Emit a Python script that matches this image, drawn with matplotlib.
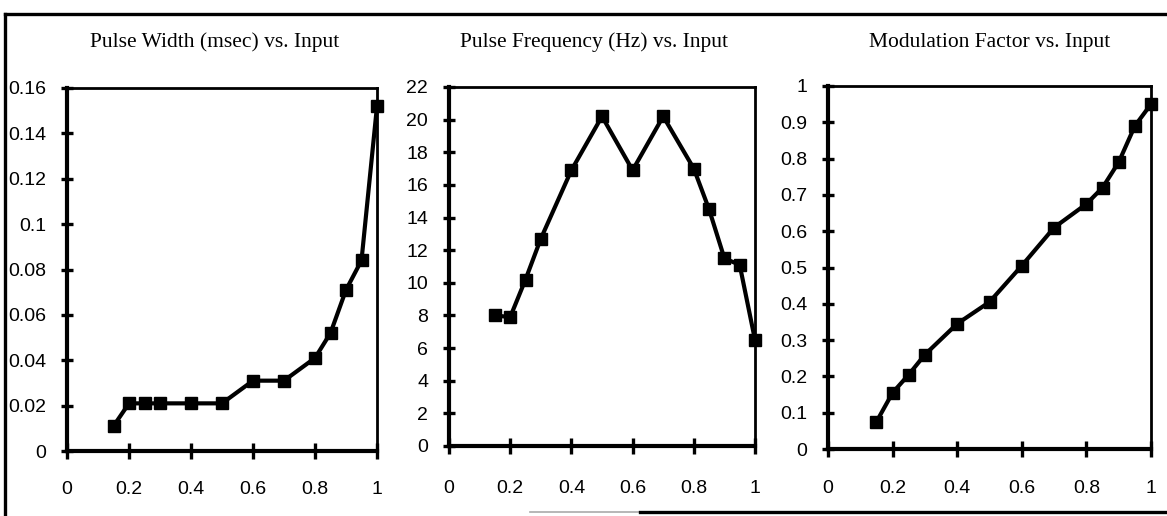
import matplotlib
matplotlib.use("Agg")
import matplotlib.pyplot as plt
from matplotlib.lines import Line2D

# ---- data ----
inputs = [0.15, 0.2, 0.25, 0.3, 0.4, 0.5, 0.6, 0.7, 0.8, 0.85, 0.9, 0.95, 1.0]
pulse_width = [0.011, 0.021, 0.021, 0.021, 0.021, 0.021, 0.031, 0.031, 0.041, 0.052, 0.071, 0.084, 0.152]
pulse_freq = [8.0, 7.9, 10.2, 12.7, 16.9, 20.2, 16.9, 20.2, 17.0, 14.5, 11.5, 11.1, 6.5]
mod_factor = [0.075, 0.155, 0.205, 0.26, 0.345, 0.405, 0.505, 0.61, 0.675, 0.72, 0.79, 0.89, 0.95]

titles = ["Pulse Width (msec) vs. Input",
          "Pulse Frequency (Hz) vs. Input",
          "Modulation Factor vs. Input"]
x_ticks = [0, 0.2, 0.4, 0.6, 0.8, 1]
x_ticklabels = ["0", "0.2", "0.4", "0.6", "0.8", "1"]
y_ticks_1 = [0, 0.02, 0.04, 0.06, 0.08, 0.1, 0.12, 0.14, 0.16]
y_labels_1 = ["0", "0.02", "0.04", "0.06", "0.08", "0.1", "0.12", "0.14", "0.16"]
y_ticks_2 = [0, 2, 4, 6, 8, 10, 12, 14, 16, 18, 20, 22]
y_labels_2 = [str(v) for v in y_ticks_2]
y_ticks_3 = [0, 0.1, 0.2, 0.3, 0.4, 0.5, 0.6, 0.7, 0.8, 0.9, 1]
y_labels_3 = ["0", "0.1", "0.2", "0.3", "0.4", "0.5", "0.6", "0.7", "0.8", "0.9", "1"]

W, H = 1167, 516
fig = plt.figure(figsize=(W / 100, H / 100), dpi=100)
fig.patch.set_facecolor("white")

def box(l, r, t, b):
    return [l / W, 1 - b / H, (r - l) / W, (b - t) / H]

positions = [box(67, 377, 88, 451), box(449, 755, 87, 446), box(828, 1151, 86, 449)]
title_x = [215, 594, 990]
series = [pulse_width, pulse_freq, mod_factor]
yticks = [y_ticks_1, y_ticks_2, y_ticks_3]
ylabels = [y_labels_1, y_labels_2, y_labels_3]
ylims = [0.16, 22, 1.0]
xpads = [16, 19, 17]

for i in range(3):
    ax = fig.add_axes(positions[i])
    ax.plot(inputs, series[i], color="black", lw=3.0, marker="s", ms=9,
            mfc="black", mec="black", solid_joinstyle="miter", clip_on=False, zorder=3)
    ax.set_xlim(0, 1)
    ax.set_ylim(0, ylims[i])
    ax.set_xticks(x_ticks)
    ax.set_xticklabels(x_ticklabels, fontfamily="Liberation Sans", fontsize=14)
    ax.set_yticks(yticks[i])
    ax.set_yticklabels(ylabels[i], fontfamily="Liberation Sans", fontsize=14)
    ax.tick_params(axis="x", direction="inout", length=11, width=2.4, color="black", pad=xpads[i])
    ax.tick_params(axis="y", direction="inout", length=8, width=2.4, color="black", pad=11)
    for sp in ["left", "bottom"]:
        ax.spines[sp].set_linewidth(3.0)
    for sp in ["top", "right"]:
        ax.spines[sp].set_linewidth(2.0)
    fig.text(title_x[i] / W, 1 - 42 / H, titles[i], ha="center", va="center",
             fontfamily="Liberation Serif", fontsize=15.5)

# outer frame
fig.add_artist(Line2D([5 / W, 1], [1 - 14 / H, 1 - 14 / H], transform=fig.transFigure,
                      color="black", lw=2.4))
fig.add_artist(Line2D([5 / W, 5 / W], [1 - 14 / H, 0], transform=fig.transFigure,
                      color="black", lw=2.4))
fig.add_artist(Line2D([530 / W, 640 / W], [1 - 512 / H, 1 - 512 / H], transform=fig.transFigure,
                      color="#aaaaaa", lw=1.2))
fig.add_artist(Line2D([640 / W, 1], [1 - 512 / H, 1 - 512 / H], transform=fig.transFigure,
                      color="black", lw=2.4))

fig.savefig("out.png", dpi=100, facecolor="white")
